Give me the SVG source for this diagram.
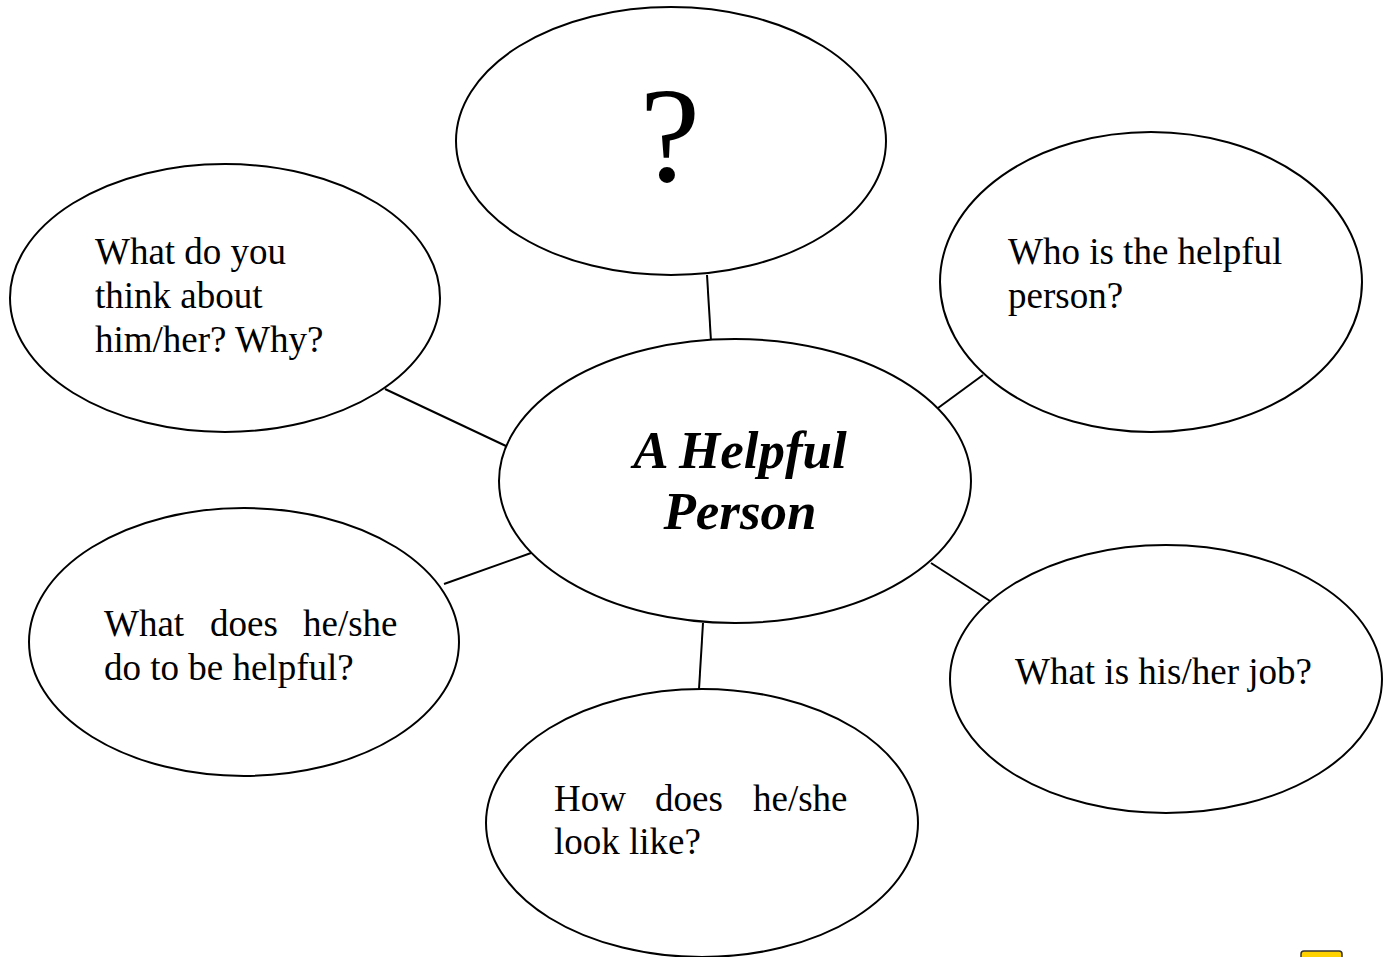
<svg xmlns="http://www.w3.org/2000/svg" width="1389" height="957" viewBox="0 0 1389 957">
<style>
.n{fill:#fff;stroke:#000;stroke-width:2}
.t{font-family:"Liberation Serif","Times New Roman",serif;font-size:37px;fill:#000}
.h{font-family:"Liberation Serif","Times New Roman",serif;font-size:53px;font-weight:bold;font-style:italic;fill:#000}
.c{stroke:#000;stroke-width:2;fill:none}
</style>
<rect width="1389" height="957" fill="#fff"/>
<g id="connectors">
<line class="c" x1="707" y1="275" x2="711" y2="341"/>
<line class="c" x1="385" y1="389" x2="506" y2="446"/>
<line class="c" x1="983" y1="375" x2="938" y2="408"/>
<line class="c" x1="444" y1="584" x2="531" y2="553"/>
<line class="c" x1="931" y1="563" x2="990" y2="601"/>
<line class="c" x1="703" y1="623" x2="699" y2="689"/>
</g>
<g id="node-top">
<ellipse class="n" cx="671" cy="141" rx="215" ry="134"/>
<text x="670" y="181" text-anchor="middle" font-family="Liberation Serif,serif" font-size="136">?</text>
</g>
<g id="node-center">
<ellipse class="n" cx="735" cy="481" rx="236" ry="142"/>
<text class="h" x="740" y="468" text-anchor="middle">A Helpful</text>
<text class="h" x="740" y="529" text-anchor="middle">Person</text>
</g>
<g id="node-think">
<ellipse class="n" cx="225" cy="298" rx="215" ry="134"/>
<text class="t" x="95" y="264">What do you</text>
<text class="t" x="95" y="308">think about</text>
<text class="t" x="95" y="352">him/her? Why?</text>
</g>
<g id="node-who">
<ellipse class="n" cx="1151" cy="282" rx="211" ry="150"/>
<text class="t" x="1008" y="264">Who is the helpful</text>
<text class="t" x="1008" y="308">person?</text>
</g>
<g id="node-do">
<ellipse class="n" cx="244" cy="642" rx="215" ry="134"/>
<text class="t" y="636"><tspan x="104">What</tspan><tspan x="210">does</tspan><tspan x="303">he/she</tspan></text>
<text class="t" x="104" y="680">do to be helpful?</text>
</g>
<g id="node-job">
<ellipse class="n" cx="1166" cy="679" rx="216" ry="134"/>
<text class="t" x="1015" y="684">What is his/her job?</text>
</g>
<g id="node-look">
<ellipse class="n" cx="702" cy="823" rx="216" ry="134"/>
<text class="t" y="811"><tspan x="554">How</tspan><tspan x="655">does</tspan><tspan x="753">he/she</tspan></text>
<text class="t" x="554" y="854">look like?</text>
</g>
<rect x="1301" y="951" width="41" height="14" rx="3" fill="#ffd200" stroke="#333" stroke-width="1.5"/>
</svg>
